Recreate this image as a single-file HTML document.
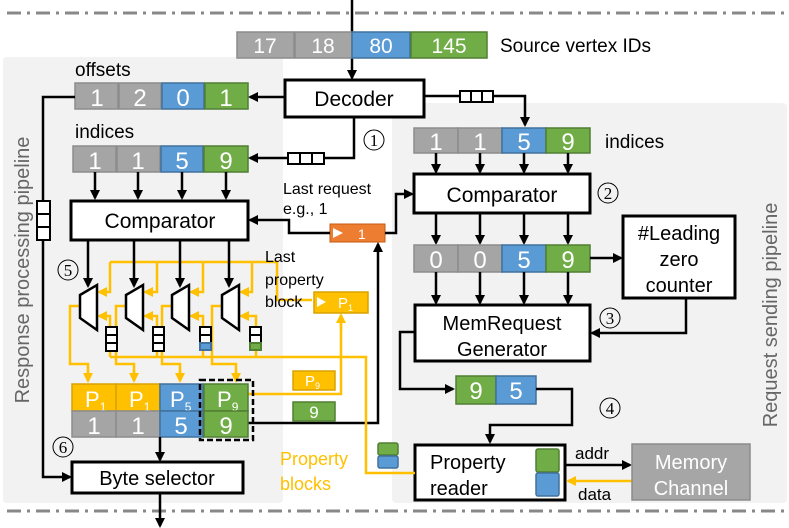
<!DOCTYPE html>
<html><head><meta charset="utf-8"><style>
body{margin:0;background:#fff}
svg{display:block;font-family:"Liberation Sans",sans-serif}
.c{stroke-width:1.5}
.g{fill:#a5a5a5;stroke:#8c8c8c}
.b{fill:#5b9bd5;stroke:#41719c}
.gr{fill:#70ad47;stroke:#507e32}
.y{fill:#ffc000;stroke:#d9a300}
.n{fill:#fff;font-size:24px;text-anchor:middle}
.t{font-size:19px;fill:#000}
.bx{fill:#fff;stroke:#000;stroke-width:3}
.k{stroke:#000;stroke-width:2.5;fill:none}
.yl{stroke:#ffc000;stroke-width:2.5;fill:none}
.cn{font-size:17px;font-family:'Liberation Serif',serif;text-anchor:middle}
</style></head><body>
<svg width="789" height="528" viewBox="0 0 789 528">
<defs>
<marker id="a" markerWidth="10" markerHeight="10" refX="8" refY="5" orient="auto" markerUnits="userSpaceOnUse"><path d="M0,0L10,5L0,10z" fill="#000"/></marker>
<marker id="ay" markerWidth="10" markerHeight="10" refX="8" refY="5" orient="auto" markerUnits="userSpaceOnUse"><path d="M0,0L10,5L0,10z" fill="#ffc000"/></marker>
</defs>
<rect x="3" y="57" width="280" height="446" rx="4" fill="#f2f2f2"/>
<rect x="392" y="103" width="395" height="400" rx="4" fill="#f2f2f2"/>
<line x1="7" y1="13" x2="789" y2="13" stroke="#888" stroke-width="3" stroke-dasharray="14,6,3,6"/>
<line x1="7" y1="511" x2="789" y2="511" stroke="#888" stroke-width="3" stroke-dasharray="14,6,3,6"/>

<line x1="352" y1="0" x2="352" y2="78" class="k" marker-end="url(#a)"/>
<rect x="237" y="32" width="57" height="26" class="g c"/><text x="265" y="53" class="n" style="font-size:21px">17</text>
<rect x="295" y="32" width="57" height="26" class="g c"/><text x="323" y="53" class="n" style="font-size:21px">18</text>
<rect x="352" y="32" width="58" height="26" class="b c"/><text x="381" y="53" class="n" style="font-size:21px">80</text>
<rect x="411" y="32" width="76" height="26" class="gr c"/><text x="449" y="53" class="n" style="font-size:21px">145</text>
<text x="500" y="52" class="t">Source vertex IDs</text>

<rect x="285" y="80" width="139" height="37" class="bx"/><text x="354" y="106" class="t" text-anchor="middle" style="font-size:21px">Decoder</text>
<text x="75" y="76" class="t">offsets</text>
<rect x="75" y="83" width="43" height="26" class="g c"/><text x="97" y="106" class="n">1</text>
<rect x="119" y="83" width="42" height="26" class="g c"/><text x="140" y="106" class="n">2</text>
<rect x="162" y="83" width="42" height="26" class="b c"/><text x="183" y="106" class="n">0</text>
<rect x="205" y="83" width="43" height="26" class="gr c"/><text x="226" y="106" class="n">1</text>
<line x1="285" y1="97" x2="250" y2="97" class="k" marker-end="url(#a)"/>
<text x="75" y="138" class="t">indices</text>
<rect x="73" y="146" width="43" height="26" class="g c"/><text x="95" y="169" class="n">1</text>
<rect x="117" y="146" width="43" height="26" class="g c"/><text x="138" y="169" class="n">1</text>
<rect x="161" y="146" width="42" height="26" class="b c"/><text x="182" y="169" class="n">5</text>
<rect x="204" y="146" width="44" height="26" class="gr c"/><text x="226" y="169" class="n">9</text>
<polyline points="354,117 354,158 250,158" class="k" marker-end="url(#a)"/>
<rect x="288" y="153" width="36" height="11" fill="#fff" stroke="#000" stroke-width="2"/><line x1="300" y1="153" x2="300" y2="164" stroke="#000" stroke-width="2"/><line x1="312" y1="153" x2="312" y2="164" stroke="#000" stroke-width="2"/>
<circle cx="374" cy="140" r="10" fill="none" stroke="#000"/><text x="374" y="146" class="cn">1</text>

<polyline points="424,96 525,96 525,125" class="k" marker-end="url(#a)"/>
<rect x="460" y="91" width="33" height="11" fill="#fff" stroke="#000" stroke-width="2"/><line x1="471" y1="91" x2="471" y2="102" stroke="#000" stroke-width="2"/><line x1="482" y1="91" x2="482" y2="102" stroke="#000" stroke-width="2"/>
<rect x="414" y="128" width="44" height="25" class="g c"/><text x="436" y="150" class="n">1</text>
<rect x="458" y="128" width="44" height="25" class="g c"/><text x="480" y="150" class="n">1</text>
<rect x="502" y="128" width="44" height="25" class="b c"/><text x="524" y="150" class="n">5</text>
<rect x="546" y="128" width="44" height="25" class="gr c"/><text x="568" y="150" class="n">9</text>
<text x="605" y="148" class="t">indices</text>
<g class="k" marker-end="url(#a)"><line x1="436" y1="153" x2="436" y2="172"/><line x1="480" y1="153" x2="480" y2="172"/><line x1="524" y1="153" x2="524" y2="172"/><line x1="568" y1="153" x2="568" y2="172"/></g>
<rect x="414" y="174" width="176" height="39" class="bx"/><text x="502" y="202" class="t" text-anchor="middle" style="font-size:21px">Comparator</text>
<circle cx="608" cy="193" r="10" fill="none" stroke="#000"/><text x="608" y="199" class="cn">2</text>
<g class="k" marker-end="url(#a)"><line x1="436" y1="213" x2="436" y2="243"/><line x1="480" y1="213" x2="480" y2="243"/><line x1="524" y1="213" x2="524" y2="243"/><line x1="568" y1="213" x2="568" y2="243"/></g>
<rect x="414" y="245" width="44" height="27" class="g c"/><text x="436" y="268" class="n">0</text>
<rect x="458" y="245" width="44" height="27" class="g c"/><text x="480" y="268" class="n">0</text>
<rect x="502" y="245" width="44" height="27" class="b c"/><text x="524" y="268" class="n">5</text>
<rect x="546" y="245" width="44" height="27" class="gr c"/><text x="568" y="268" class="n">9</text>
<line x1="590" y1="258" x2="621" y2="258" class="k" marker-end="url(#a)"/>
<rect x="623" y="216" width="112" height="82" class="bx"/>
<text x="679" y="240" class="t" text-anchor="middle" style="font-size:20px">#Leading</text>
<text x="679" y="266" class="t" text-anchor="middle" style="font-size:20px">zero</text>
<text x="679" y="292" class="t" text-anchor="middle" style="font-size:20px">counter</text>
<g class="k" marker-end="url(#a)"><line x1="436" y1="272" x2="436" y2="303"/><line x1="480" y1="272" x2="480" y2="303"/><line x1="524" y1="272" x2="524" y2="303"/><line x1="568" y1="272" x2="568" y2="303"/></g>
<rect x="415" y="305" width="175" height="56" class="bx"/>
<text x="502" y="330" class="t" text-anchor="middle" style="font-size:20px">MemRequest</text>
<text x="502" y="356" class="t" text-anchor="middle" style="font-size:20px">Generator</text>
<polyline points="686,298 686,333 592,333" class="k" marker-end="url(#a)"/>
<circle cx="610" cy="318" r="10" fill="none" stroke="#000"/><text x="610" y="324" class="cn">3</text>
<polyline points="415,332 400,332 400,389 453,389" class="k" marker-end="url(#a)"/>
<rect x="456" y="376" width="40" height="28" class="gr c"/><text x="476" y="399" class="n">9</text>
<rect x="496" y="376" width="40" height="28" class="b c"/><text x="516" y="399" class="n">5</text>
<polyline points="536,389 572,389 572,425 490,425 490,442" class="k" marker-end="url(#a)"/>
<circle cx="610" cy="408" r="10" fill="none" stroke="#000"/><text x="610" y="414" class="cn">4</text>
<rect x="415" y="445" width="150" height="55" class="bx"/>
<text x="430" y="469" class="t" style="font-size:20px">Property</text>
<text x="430" y="495" class="t" style="font-size:20px">reader</text>
<rect x="536" y="449" width="23" height="23" rx="2" class="gr c"/>
<rect x="536" y="473" width="23" height="23" rx="2" class="b c"/>
<line x1="565" y1="465" x2="630" y2="465" class="k" marker-end="url(#a)"/>
<line x1="632" y1="481" x2="568" y2="481" class="yl" marker-end="url(#ay)"/>
<text x="575" y="459" class="t" style="font-size:17px">addr</text>
<text x="578" y="500" class="t" style="font-size:17px">data</text>
<rect x="632" y="444" width="118" height="56" fill="#a6a6a6" stroke="#8c8c8c" stroke-width="1.5"/>
<text x="691" y="469" text-anchor="middle" style="font-size:20px;fill:#fff">Memory</text>
<text x="691" y="495" text-anchor="middle" style="font-size:20px;fill:#fff">Channel</text>
<text transform="translate(777,315) rotate(-90)" text-anchor="middle" style="font-size:20px;fill:#666">Request sending pipeline</text>

<text x="283" y="194" class="t" style="font-size:16px">Last request</text>
<text x="283" y="214" class="t" style="font-size:16px">e.g., 1</text>
<rect x="330" y="224" width="55" height="18" fill="#ed7d31" stroke="#c55a11"/>
<path d="M333,228L343,233L333,238" fill="#fff"/>
<text x="358" y="239" style="font-size:14px;fill:#fff">1</text>
<polyline points="385,233 396,233 396,194 412,194" class="k" marker-end="url(#a)"/>
<polyline points="330,233 289,233 289,220 250,220" class="k" marker-end="url(#a)"/>
<polyline points="248,423 378,423 378,244" class="k" marker-end="url(#a)"/>

<g class="k" marker-end="url(#a)"><line x1="95" y1="172" x2="95" y2="198"/><line x1="138" y1="172" x2="138" y2="198"/><line x1="182" y1="172" x2="182" y2="198"/><line x1="226" y1="172" x2="226" y2="198"/></g>
<rect x="71" y="201" width="177" height="39" class="bx"/><text x="160" y="228" class="t" text-anchor="middle" style="font-size:21px">Comparator</text>
<circle cx="68" cy="270" r="10" fill="none" stroke="#000"/><text x="68" y="276" class="cn">5</text>

<g class="yl">
<polyline points="110,262 277,262 277,300 312,300"/>
<polyline points="80,306 70,306 70,364 88,364 88,381"/>
<polyline points="126,306 116,306 116,364 134,364 134,381"/>
<polyline points="172,306 162,306 162,364 180,364 180,381"/>
<polyline points="222,306 212,306 212,364 236,364 236,381"/>
<polyline points="110,357 366,357 366,473 415,473"/>
<polyline points="248,394 341,394 341,315"/>
</g>
<g class="yl" marker-end="url(#ay)">
<polyline points="110,262 110,292 99,292"/>
<polyline points="157,262 157,292 145,292"/>
<polyline points="203,262 203,292 191,292"/>
<polyline points="252,262 252,292 241,292"/>
<polyline points="110,357 110,316 99,316"/>
<polyline points="157,357 157,316 145,316"/>
<polyline points="203,357 203,316 191,316"/>
<polyline points="256,357 256,316 241,316"/>
<line x1="341" y1="330" x2="341" y2="315"/>
<line x1="88" y1="370" x2="88" y2="381"/><line x1="134" y1="370" x2="134" y2="381"/><line x1="180" y1="370" x2="180" y2="381"/><line x1="236" y1="370" x2="236" y2="381"/>
</g>
<g class="k" marker-end="url(#a)"><line x1="88" y1="240" x2="88" y2="286"/><line x1="134" y1="240" x2="134" y2="286"/><line x1="180" y1="240" x2="180" y2="286"/><line x1="229" y1="240" x2="229" y2="286"/></g>
<g fill="#fff" stroke="#000" stroke-width="2.5">
<polygon points="80,295 97,285 97,330 80,318"/>
<polygon points="126,295 143,285 143,330 126,318"/>
<polygon points="172,295 189,285 189,330 172,318"/>
<polygon points="222,295 239,285 239,330 222,318"/>
</g>
<g stroke="#000" stroke-width="2">
<rect x="106" y="327" width="11" height="8" fill="#fff"/><rect x="106" y="335" width="11" height="8" fill="#fff"/><rect x="106" y="343" width="11" height="8" fill="#fff"/>
<rect x="153" y="327" width="11" height="8" fill="#fff"/><rect x="153" y="335" width="11" height="8" fill="#fff"/><rect x="153" y="343" width="11" height="8" fill="#fff"/>
<rect x="200" y="327" width="11" height="8" fill="#fff"/><rect x="200" y="335" width="11" height="8" fill="#fff"/><rect x="200" y="343" width="11" height="7" fill="#5b9bd5" stroke="#41719c"/>
<rect x="250" y="327" width="11" height="8" fill="#fff"/><rect x="250" y="335" width="11" height="8" fill="#fff"/><rect x="250" y="343" width="11" height="7" fill="#70ad47" stroke="#507e32"/>
</g>
<text x="265" y="262" class="t" style="font-size:16px">Last</text>
<text x="265" y="285" class="t" style="font-size:16px">property</text>
<text x="265" y="307" class="t" style="font-size:16px">block</text>
<rect x="314" y="292" width="54" height="21" class="y c"/>
<path d="M317,297L326,302L317,307" fill="#fff"/>
<text x="338" y="308" style="font-size:15px;fill:#fff">P<tspan font-size="9" dy="3">1</tspan></text>

<rect x="72" y="384" width="44" height="27" class="y c"/><text x="85" y="407" style="font-size:22px;fill:#fff">P<tspan font-size="12" dy="4">1</tspan></text>
<rect x="116" y="384" width="44" height="27" class="y c"/><text x="129" y="407" style="font-size:22px;fill:#fff">P<tspan font-size="12" dy="4">1</tspan></text>
<rect x="160" y="384" width="43" height="27" class="b c"/><text x="170" y="407" style="font-size:22px;fill:#fff">P<tspan font-size="12" dy="4">5</tspan></text>
<rect x="204" y="384" width="44" height="27" class="gr c"/><text x="217" y="407" style="font-size:22px;fill:#fff">P<tspan font-size="12" dy="4">9</tspan></text>
<rect x="72" y="411" width="44" height="26" class="g c"/><text x="94" y="434" class="n">1</text>
<rect x="116" y="411" width="44" height="26" class="g c"/><text x="138" y="434" class="n">1</text>
<rect x="160" y="411" width="43" height="26" class="b c"/><text x="181" y="434" class="n">5</text>
<rect x="204" y="411" width="44" height="26" class="gr c"/><text x="226" y="434" class="n">9</text>
<rect x="200" y="380" width="53" height="60" fill="none" stroke="#000" stroke-width="2.5" stroke-dasharray="6,3"/>
<rect x="293" y="371" width="42" height="19" class="y c"/><text x="305" y="386" style="font-size:15px;fill:#fff">P<tspan font-size="9" dy="3">9</tspan></text>
<rect x="293" y="402" width="42" height="19" class="gr c"/><text x="314" y="418" text-anchor="middle" style="font-size:17px;fill:#fff">9</text>

<polyline points="75,97 43,97 43,477 70,477" class="k" marker-end="url(#a)"/>
<g stroke="#000" stroke-width="2" fill="#fff"><rect x="37" y="201" width="13" height="13"/><rect x="37" y="214" width="13" height="13"/><rect x="37" y="227" width="13" height="13"/></g>
<circle cx="63" cy="447" r="10" fill="none" stroke="#000"/><text x="63" y="453" class="cn">6</text>
<line x1="160" y1="437" x2="160" y2="460" class="k" marker-end="url(#a)"/>
<rect x="72" y="462" width="171" height="31" class="bx"/><text x="157" y="485" class="t" text-anchor="middle" style="font-size:20px">Byte selector</text>
<line x1="160" y1="493" x2="160" y2="526" class="k" marker-end="url(#a)"/>
<text transform="translate(29,270) rotate(-90)" text-anchor="middle" style="font-size:20px;fill:#666">Response processing pipeline</text>

<text x="280" y="465" style="font-size:18px;fill:#ffc000">Property</text>
<text x="280" y="490" style="font-size:18px;fill:#ffc000">blocks</text>
<rect x="378" y="443" width="20" height="12" rx="2" class="gr c"/>
<rect x="378" y="456" width="20" height="12" rx="2" class="b c"/>
</svg>
</body></html>
